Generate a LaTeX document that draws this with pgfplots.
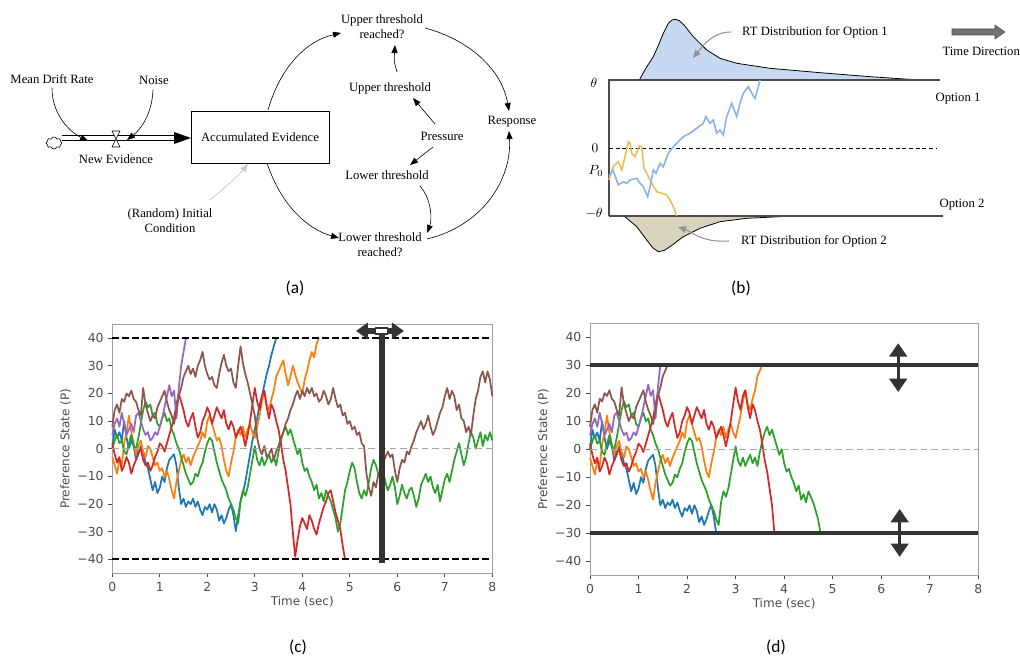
\documentclass[border=0pt]{standalone}
\usepackage{pgfplots}
\pgfplotsset{compat=1.18}
\usepackage{pgfplotstable}
\usepackage{fontspec}
\setmainfont{Liberation Serif}
\setsansfont{DejaVu Sans}
\newfontfamily\capfont{Carlito}
\usetikzlibrary{arrows.meta,shapes.symbols}

\definecolor{tabblue}{HTML}{1F77B4}
\definecolor{taborange}{HTML}{FF7F0E}
\definecolor{tabgreen}{HTML}{2CA02C}
\definecolor{tabred}{HTML}{D62728}
\definecolor{tabpurple}{HTML}{9467BD}
\definecolor{tabbrown}{HTML}{8C564B}
\definecolor{distblue}{HTML}{C6D9F0}
\definecolor{distkhaki}{HTML}{D8D3BC}
\definecolor{walkblue}{HTML}{8AB4E6}
\definecolor{walkyellow}{HTML}{E8BF5A}
\definecolor{darkbar}{HTML}{333333}

% preference state, one value every 0.05 s
\pgfplotstableread[row sep=\\]{p\\ 0\\ 7\\ 4\\ 6\\ 3\\ 10\\ 4\\ 0\\ 3\\ 1\\
-4\\ -2\\ 1\\ -1\\ -5\\ -7\\ -11\\ -15\\ -12\\ -16\\
-14\\ -10\\ -12\\ -7\\ -4\\ -3\\ -2\\ -6\\ -14\\ -20\\
-18\\ -21\\ -19\\ -20\\ -18\\ -21\\ -19\\ -22\\ -24\\ -21\\
-22\\ -20\\ -23\\ -20\\ -22\\ -26\\ -24\\ -27\\ -25\\ -22\\
-20\\ -24\\ -29.8\\ -24\\ -19\\ -16\\ -12\\ -7\\ -2\\ 3\\
7\\ 11\\ 16\\ 19\\ 23\\ 27\\ 30\\ 34\\ 37\\ 40\\}\bluewalk

\pgfplotstableread[row sep=\\]{p\\ -3\\ -6\\ -9\\ -4\\ -6\\ 2\\ 6\\ 12\\ 6\\ 2\\
-2\\ 1\\ 3\\ -1\\ -3\\ 1\\ 0\\ -3\\ -6\\ -5\\
-8\\ -7\\ -10\\ -8\\ -11\\ -15\\ -18\\ -12\\ -8\\ -4\\
-2\\ -5\\ -3\\ -6\\ -3\\ -1\\ 1\\ 3\\ 6\\ 4\\
10\\ 12\\ 9\\ 6\\ 3\\ 4\\ 1\\ -4\\ -8\\ -10\\
-5\\ -1\\ 4\\ 7\\ 5\\ 8\\ 4\\ 7\\ 9\\ 6\\
4\\ 8\\ 12\\ 17\\ 21\\ 16\\ 14\\ 18\\ 21\\ 26\\
28\\ 30\\ 32\\ 27\\ 23\\ 26\\ 30\\ 27\\ 24\\ 22\\
20\\ 25\\ 28\\ 32\\ 35\\ 33\\ 38\\ 40\\}\orangewalk

\pgfplotstableread[row sep=\\]{p\\ 0\\ 3\\ 5\\ 2\\ 3\\ -1\\ -2\\ 2\\ 5\\ 1\\
0\\ 4\\ 9\\ 14\\ 17\\ 15\\ 16\\ 12\\ 13\\ 9\\
8\\ 11\\ 13\\ 10\\ 11\\ 7\\ 5\\ 2\\ 0\\ -3\\
-6\\ -9\\ -11\\ -13\\ -12\\ -9\\ -10\\ -7\\ -5\\ -1\\
2\\ 4\\ 3\\ -1\\ -5\\ -8\\ -11\\ -13\\ -15\\ -18\\
-20\\ -22\\ -25\\ -27\\ -19\\ -15\\ -17\\ -14\\ -9\\ -4\\
1\\ -4\\ -6\\ -3\\ -6\\ -4\\ -2\\ -5\\ -3\\ -6\\
-1\\ 3\\ 6\\ 8\\ 5\\ 7\\ 4\\ 1\\ -2\\ 0\\
-5\\ -8\\ -7\\ -10\\ -12\\ -15\\ -13\\ -18\\ -16\\ -19\\
-15\\ -17\\ -19\\ -22\\ -25\\ -30\\ -27\\ -21\\ -15\\ -12\\
-8\\ -5\\ -7\\ -12\\ -16\\ -18\\ -15\\ -17\\ -12\\ -7\\
-4\\ -6\\ -9\\ -11\\ -8\\ -12\\ -15\\ -13\\ -10\\ -14\\
-20\\ -17\\ -13\\ -16\\ -18\\ -15\\ -14\\ -17\\ -21\\ -18\\
-13\\ -11\\ -9\\ -12\\ -10\\ -14\\ -16\\ -13\\ -19\\ -15\\
-11\\ -9\\ -12\\ -8\\ -4\\ -1\\ 2\\ -2\\ -6\\ -3\\
2\\ 6\\ 4\\ 0\\ 3\\ 6\\ 1\\ 5\\ 3\\ 6\\
3\\}\greenwalk

\pgfplotstableread[row sep=\\]{p\\ 2\\ -2\\ -5\\ -3\\ -8\\ -6\\ -3\\ -5\\ -9\\ -6\\
-4\\ -1\\ 0\\ -4\\ -6\\ -5\\ -8\\ -6\\ -3\\ -1\\
2\\ 1\\ -1\\ 2\\ 5\\ 8\\ 11\\ 16\\ 20\\ 17\\
14\\ 10\\ 8\\ 11\\ 13\\ 8\\ 4\\ 6\\ 10\\ 12\\
15\\ 13\\ 9\\ 12\\ 15\\ 13\\ 11\\ 14\\ 9\\ 7\\
10\\ 8\\ 4\\ 6\\ 8\\ 5\\ 1\\ 5\\ 10\\ 16\\
22\\ 17\\ 14\\ 19\\ 21\\ 15\\ 11\\ 16\\ 14\\ 10\\
7\\ 2\\ -4\\ -8\\ -14\\ -20\\ -30\\ -39\\ -33\\ -28\\
-25\\ -27\\ -29\\ -24\\ -26\\ -29\\ -31\\ -27\\ -24\\ -21\\
-19\\ -16\\ -15\\ -19\\ -23\\ -26\\ -29\\ -35\\ -40\\}\redwalk

\pgfplotstableread[row sep=\\]{p\\ 5\\ 9\\ 11\\ 8\\ 13\\ 9\\ 5\\ 7\\ 9\\ 6\\
12\\ 13\\ 10\\ 7\\ 5\\ 6\\ 3\\ 4\\ 6\\ 5\\
8\\ 11\\ 15\\ 19\\ 23\\ 19\\ 21\\ 11\\ 22\\ 30\\
35\\ 40\\}\purplewalk

\pgfplotstableread[row sep=\\]{p\\ 8\\ 14\\ 16\\ 13\\ 18\\ 17\\ 20\\ 19\\ 21\\ 18\\
17\\ 14\\ 12\\ 22\\ 16\\ 13\\ 10\\ 12\\ 11\\ 15\\
17\\ 19\\ 21\\ 17\\ 14\\ 12\\ 9\\ 14\\ 19\\ 22\\
26\\ 28\\ 30\\ 27\\ 29\\ 26\\ 30\\ 32\\ 35\\ 30\\
27\\ 25\\ 26\\ 23\\ 22\\ 27\\ 31\\ 34\\ 30\\ 28\\
29\\ 24\\ 22\\ 30\\ 37\\ 31\\ 27\\ 24\\ 20\\ 16\\
12\\ 4\\ 0\\ -2\\ 1\\ -3\\ -2\\ 0\\ -4\\ -1\\
1\\ 4\\ 6\\ 9\\ 11\\ 14\\ 16\\ 19\\ 21\\ 18\\
21\\ 19\\ 22\\ 20\\ 22\\ 19\\ 20\\ 17\\ 18\\ 21\\
19\\ 16\\ 18\\ 22\\ 18\\ 15\\ 16\\ 12\\ 13\\ 9\\
10\\ 7\\ 8\\ 5\\ 6\\ 2\\ 1\\ -9\\ -14\\ -17\\
-12\\ -14\\ -9\\ -11\\ -5\\ -3\\ -1\\ -3\\ -2\\ -8\\
-12\\ -7\\ -4\\ -5\\ -1\\ -2\\ 1\\ 3\\ 6\\ 8\\
10\\ 7\\ 9\\ 12\\ 8\\ 5\\ 7\\ 10\\ 13\\ 15\\
19\\ 22\\ 18\\ 21\\ 19\\ 14\\ 16\\ 11\\ 10\\ 6\\
8\\ 5\\ 12\\ 18\\ 21\\ 26\\ 28\\ 24\\ 28\\ 25\\
19\\}\brownwalk

\pgfplotsset{
  walk/.style={line width=1.3pt, line join=round},
  pstate/.style={
    scale only axis, anchor=south west,
    xmin=0, xmax=8, ymin=-45, ymax=45,
    xtick={0,1,...,8},
    ytick={-40,-30,-20,-10,0,10,20,30,40},
    yticklabels={−40,−30,−20,−10,0,10,20,30,40},
    tick align=outside, tick pos=left, major tick length=3pt,
    axis line style={gray!75, line width=0.7pt},
    tick style={gray!60!black, line width=0.6pt},
    ticklabel style={font=\sffamily\fontsize{9.3}{10}\selectfont, text=black!70},
    /pgf/number format/assume math mode=true,
    label style={font=\sffamily\fontsize{9}{10}\selectfont, text=black!70},
    xlabel={Time (sec)}, ylabel={Preference State (P)},
    xlabel style={yshift=3pt}, ylabel style={yshift=-2pt},
    clip=false,
  },
  rtdist/.style={draw=black, line width=0.6pt},
}

\begin{document}
\begin{tikzpicture}[
  arr/.style={-{Triangle[length=6pt,width=4.5pt]}, line width=0.45pt},
  garr/.style={-{Triangle[length=6pt,width=5pt]}, line width=0.8pt, draw=gray!85},
  lbl/.style={font=\fontsize{9.5}{11.5}\selectfont, align=center, inner sep=1pt},
  capt/.style={font=\capfont\fontsize{13}{15}\selectfont}]
\useasboundingbox (0,0) rectangle (765pt,494.25pt);

% ---------------- (b) ----------------
\begin{axis}[at={(441.75pt,300.75pt)}, anchor=south west, scale only axis,
  width=270pt, height=183.75pt, xmin=-20, xmax=340, ymin=-110, ymax=135,
  hide axis, clip=false]
\addplot[rtdist, fill=distblue] coordinates {
  (30.3,68) (37,80) (44.3,91.3) (50,104) (54.3,114.7) (59.3,124.7) (63,128) (66,128.7)
  (70,127.5) (75,123) (84.3,111.3) (97.7,98) (111,89.7) (127.7,84.7) (161,79.7)
  (211,75.3) (261,71.3) (311,68)} -- cycle;
\addplot[rtdist, fill=distkhaki] coordinates {
  (15,-68) (27.7,-78.7) (37.7,-92) (44,-100) (49.3,-103.7) (55,-102.5) (61,-98.7)
  (74.3,-88.7) (91,-80.3) (111,-73.7) (137.7,-70.3) (171,-68.7) (180,-68)} -- cycle;
\draw[black!70, line width=1pt] (0,-68) -- (0,68) -- (331,68);
\draw[black!70, line width=1pt] (0,-68) -- (334,-68);
\draw[black, line width=0.6pt, dash pattern=on 3pt off 2pt] (0,0) -- (328,0);
\addplot[walkyellow, line width=1.2pt] coordinates {
  (0,-32) (4,-18.7) (9.3,-13.7) (12.7,-22) (16,-8.7) (19.3,6.3) (21,4.7) (22.7,-5.3)
  (26,-8.7) (30.3,2) (32.7,1.3) (35,-20.3) (37.7,-25.3) (42.7,-35.3) (47.7,-43.7)
  (52.7,-45.3) (57.7,-47) (61,-52) (64.3,-58.7) (67.7,-68)};
\addplot[walkblue, line width=1.2pt] coordinates {
  (0,-28.7) (4,-22) (9.3,-37) (14.3,-33.7) (17.7,-35.3) (21,-32) (27.7,-30.3) (31,-35.3)
  (34.3,-38.7) (38.7,-48.7) (41,-38.7) (44.3,-22) (47,-25.3) (51,-15.3) (54.3,-18.7)
  (59.3,-5.3) (64.3,1.3) (71,8) (74.3,11.3) (81,14.7) (87.7,19.7) (94.3,24.7) (97,31.3)
  (101,24.7) (104.3,28) (107.7,14.7) (111,18) (114.3,13) (117.7,31.3) (122.7,44.7)
  (127.7,31.3) (131,44.7) (134.3,54.7) (139.3,61.3) (142.7,54.7) (146,49.7)
  (149.3,61.3) (151,68)};
\node[lbl, font=\fontsize{10}{12}\selectfont] at (-15,65) {$\theta$};
\node[lbl, font=\fontsize{10}{12}\selectfont] at (-14,0) {$0$};
\node[lbl, font=\fontsize{10}{12}\selectfont] at (-13,-23) {$P_0$};
\node[lbl, font=\fontsize{10}{12}\selectfont] at (-15,-65) {$-\theta$};
\node[lbl] at (349,49) {Option 1};
\node[lbl] at (353,-57) {Option 2};
\end{axis}

% ---------------- (c) ----------------
\begin{axis}[pstate, at={(84.225pt,64.275pt)}, width=285pt, height=186.75pt]
\addplot[walk, tabblue] table[x expr=\coordindex*0.05, y=p] {\bluewalk};
\addplot[walk, taborange] table[x expr=\coordindex*0.05, y=p] {\orangewalk};
\addplot[walk, tabgreen] table[x expr=\coordindex*0.05, y=p] {\greenwalk};
\addplot[walk, tabred] table[x expr=\coordindex*0.05, y=p] {\redwalk};
\addplot[walk, tabpurple] table[x expr=\coordindex*0.05, y=p] {\purplewalk};
\addplot[walk, tabbrown] table[x expr=\coordindex*0.05, y=p] {\brownwalk};
\draw[gray!70, line width=0.8pt, dash pattern=on 5pt off 3pt] (0,0) -- (8,0);
\draw[black, line width=1.5pt, dash pattern=on 5pt off 2.5pt] (0,40) -- (8,40);
\draw[black, line width=1.5pt, dash pattern=on 5pt off 2.5pt] (0,-40) -- (8,-40);
\draw[darkbar, line width=4.2pt,
  {Triangle[length=9pt,width=12pt]}-{Triangle[length=9pt,width=12pt]}] (5.13,42.6) -- (6.14,42.6);
\draw[darkbar, line width=4.5pt] (5.67,-41.3) -- (5.67,41.5);
\draw[fill=white, draw=darkbar, line width=1pt] ([xshift=-4.5pt,yshift=-2.2pt]axis cs:5.67,42.6)
  rectangle ([xshift=4.5pt,yshift=2.2pt]axis cs:5.67,42.6);
\end{axis}

% ---------------- (d) ----------------
\begin{axis}[pstate, at={(442.5pt,62.7pt)}, width=291.2pt, height=189.3pt]
\addplot[walk, tabblue, restrict x to domain=0:2.61] table[x expr=\coordindex*0.05, y=p] {\bluewalk};
\addplot[walk, taborange, restrict x to domain=0:3.56] table[x expr=\coordindex*0.05, y=p] {\orangewalk};
\addplot[walk, tabgreen, restrict x to domain=0:4.76] table[x expr=\coordindex*0.05, y=p] {\greenwalk};
\addplot[walk, tabred, restrict x to domain=0:3.81] table[x expr=\coordindex*0.05, y=p] {\redwalk};
\addplot[walk, tabpurple, restrict x to domain=0:1.46] table[x expr=\coordindex*0.05, y=p] {\purplewalk};
\addplot[walk, tabbrown, restrict x to domain=0:1.61] table[x expr=\coordindex*0.05, y=p] {\brownwalk};
\draw[gray!70, line width=0.8pt, dash pattern=on 5pt off 3pt] (0,0) -- (8,0);
\draw[darkbar, line width=2.8pt] (0,30) -- (8,30);
\draw[darkbar, line width=2.8pt] (0,-30) -- (8,-30);
\draw[darkbar, line width=2.5pt,
  {Triangle[length=10pt,width=13pt]}-{Triangle[length=10pt,width=13pt]}] (6.35,37.8) -- (6.35,20.4);
\draw[darkbar, line width=2.5pt,
  {Triangle[length=10pt,width=13pt]}-{Triangle[length=10pt,width=13pt]}] (6.38,-21.3) -- (6.38,-38.4);
\end{axis}

% everything else in reference pixels, y measured from the top
\begin{scope}[shift={(0pt,494.25pt)}, x=0.75pt, y=-0.75pt]
% ---------------- (a) ----------------
\node[lbl] at (52,79) {Mean Drift Rate};
\node[lbl] at (154,80) {Noise};
\node[lbl] at (116,159) {New Evidence};
\node[lbl] at (170,221) {(Random) Initial\\Condition};
\node[lbl] at (382,27) {Upper threshold\\reached?};
\node[lbl] at (390,88) {Upper threshold};
\node[lbl] at (442,136) {Pressure};
\node[lbl] at (387,175) {Lower threshold};
\node[lbl] at (380,245) {Lower threshold\\reached?};
\node[lbl] at (512,122) {Response};
\draw[line width=0.5pt] (191,111) rectangle (329,163);
\node[lbl] at (260,137) {Accumulated Evidence};

\node[cloud, draw, cloud puffs=8, aspect=1.3, minimum width=12pt, minimum height=9pt,
      inner sep=0pt, line width=0.45pt] at (54,143) {};
\draw[line width=0.5pt] (62,135.5) -- (176,135.5) (62,140.5) -- (176,140.5);
\fill (174,132) -- (191,138) -- (174,144) -- cycle;
\draw[fill=white, line width=0.45pt] (112,131) -- (120,131) -- (112,147) -- (120,147) -- cycle;

\draw[arr] (52,88) .. controls (52,115) and (70,132) .. (88,141);
\draw[arr] (153,90) .. controls (152,115) and (140,130) .. (127,140);
\draw[-{Triangle[length=6pt,width=4.5pt]}, line width=0.5pt, draw=gray!45]
   (210,200) .. controls (225,188) and (240,174) .. (248,164);
\draw[arr] (268,110) .. controls (282,62) and (310,40) .. (341,33);
\draw[arr] (267,163) .. controls (282,208) and (310,230) .. (339,238);
\draw[arr] (397,72) .. controls (394,62) .. (395,45);
\draw[arr] (435,124) -- (413,98);
\draw[arr] (433,147) -- (410,165);
\draw[arr] (420,186) .. controls (432,200) and (432,220) .. (427,233);
\draw[arr] (425,28) .. controls (470,40) and (502,70) .. (509,111);
\draw[arr] (427,239) .. controls (482,226) and (512,180) .. (509,131);
\node[capt] at (295,288) {(a)};

% ---------------- (b) extras ----------------
\node[lbl] at (815,32) {RT Distribution for Option 1};
\node[lbl] at (814,241) {RT Distribution for Option 2};
\draw[garr] (731,32) .. controls (712,32) and (702,47) .. (693,58);
\draw[garr] (729,241) .. controls (702,243) and (690,231) .. (678,227);
\draw[fill=black!55, draw=black!70, line width=0.4pt]
  (952,29) -- (995,29) -- (995,25) -- (1005,32) -- (995,39) -- (995,35) -- (952,35) -- cycle;
\node[lbl, anchor=west] at (941,51) {Time Direction};
\node[capt] at (741,288) {(b)};
\node[capt] at (298,647) {(c)};
\node[capt] at (776,647) {(d)};
\end{scope}
\end{tikzpicture}
\end{document}
